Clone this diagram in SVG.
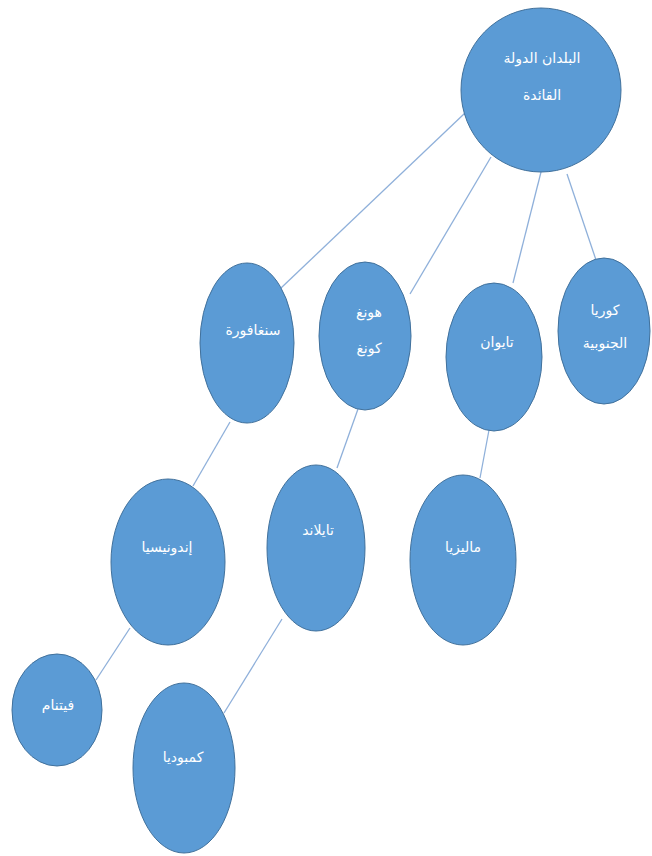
<svg xmlns="http://www.w3.org/2000/svg" width="652" height="856" viewBox="0 0 652 856">
<style>
.n{fill:#5B9BD5;stroke:#41719C;stroke-width:1}
.t{fill:#ffffff;font-family:"DejaVu Sans","Liberation Sans",sans-serif;font-size:14px;text-anchor:middle;dominant-baseline:central}
.c line{stroke:#8FB0DA;stroke-width:1.3}
</style>
<rect width="652" height="856" fill="#ffffff"/>
<g class="c" id="connectors">
<line x1="465" y1="113" x2="281" y2="288"/>
<line x1="491" y1="157" x2="410" y2="294"/>
<line x1="541" y1="172" x2="513" y2="283"/>
<line x1="567" y1="174" x2="596" y2="260"/>
<line x1="230" y1="422" x2="193" y2="486"/>
<line x1="358" y1="409" x2="337" y2="468"/>
<line x1="489" y1="430" x2="480" y2="478"/>
<line x1="130" y1="628" x2="96" y2="680"/>
<line x1="282" y1="619" x2="224" y2="713"/>
</g>
<g id="root"><ellipse class="n" cx="541" cy="90" rx="80" ry="82"/><text class="t" x="542" y="58">البلدان الدولة</text><text class="t" x="542" y="95">القائدة</text></g>
<g id="singapore"><ellipse class="n" cx="247" cy="343" rx="47" ry="80"/><text class="t" x="253" y="330">سنغافورة</text></g>
<g id="hongkong"><ellipse class="n" cx="365" cy="336" rx="46" ry="74"/><text class="t" x="369" y="312">هونغ</text><text class="t" x="369" y="348">كونغ</text></g>
<g id="taiwan"><ellipse class="n" cx="494" cy="357" rx="48" ry="74"/><text class="t" x="497" y="342">تايوان</text></g>
<g id="korea"><ellipse class="n" cx="604" cy="331" rx="46" ry="73"/><text class="t" x="605" y="310">كوريا</text><text class="t" x="605" y="343">الجنوبية</text></g>
<g id="indonesia"><ellipse class="n" cx="168" cy="562" rx="57" ry="83"/><text class="t" x="167" y="547">إندونيسيا</text></g>
<g id="thailand"><ellipse class="n" cx="316" cy="548" rx="49" ry="83"/><text class="t" x="318" y="530">تايلاند</text></g>
<g id="malaysia"><ellipse class="n" cx="463" cy="560" rx="53" ry="85"/><text class="t" x="463" y="547">ماليزيا</text></g>
<g id="vietnam"><ellipse class="n" cx="57" cy="710" rx="45" ry="56"/><text class="t" x="58" y="705">فيتنام</text></g>
<g id="cambodia"><ellipse class="n" cx="184" cy="768" rx="51" ry="85"/><text class="t" x="183" y="757">كمبوديا</text></g>
</svg>
